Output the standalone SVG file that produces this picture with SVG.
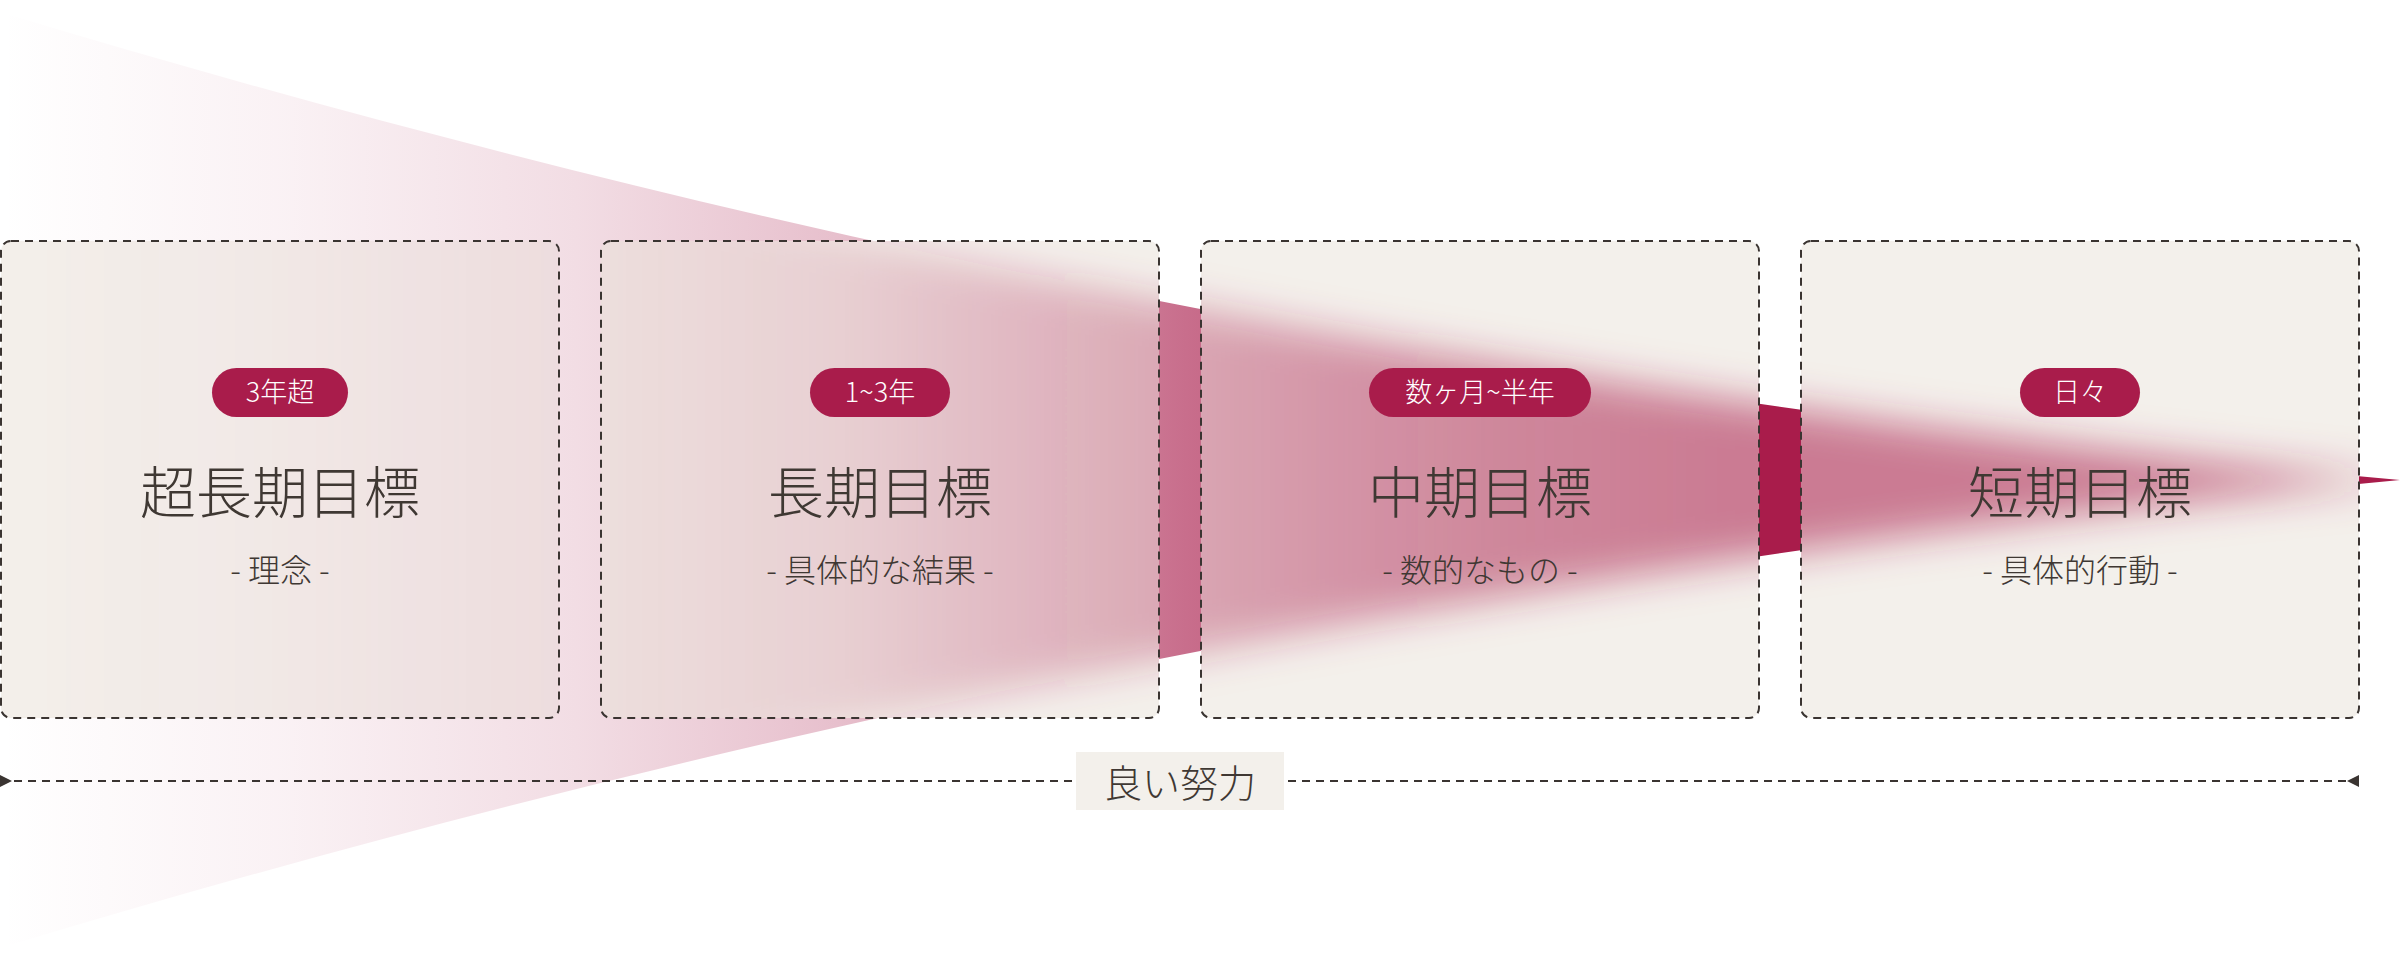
<svg xmlns="http://www.w3.org/2000/svg" xmlns:xlink="http://www.w3.org/1999/xlink" width="2400" height="960" viewBox="0 0 2400 960">
<style>
.bg{fill:#f3f0eb}
.veil{fill:#f3f0eb;fill-opacity:0.45}
.frame{fill:none;stroke:#3a3431;stroke-width:2;stroke-dasharray:8 6}
.pill{fill:#a91c4b}
.pt{font-family:"Noto Sans CJK JP","Noto Sans",sans-serif;font-size:27px;font-weight:300;fill:#ffffff;text-anchor:middle}
.ttl{font-family:"Noto Sans CJK JP","Noto Sans",sans-serif;font-size:56px;font-weight:300;fill:#3f3833;text-anchor:middle}
.sub{font-family:"Noto Sans CJK JP","Noto Sans",sans-serif;font-size:32px;font-weight:300;fill:#3f3833;text-anchor:middle}
.conn{fill:none;stroke:#3a3431;stroke-width:2;stroke-dasharray:8 6}
.lbl{font-family:"Noto Sans CJK JP","Noto Sans",sans-serif;font-size:38px;font-weight:300;fill:#3f3833;text-anchor:middle}
</style>
<defs>
<linearGradient id="wg" gradientUnits="userSpaceOnUse" x1="0" y1="0" x2="2400" y2="0">
<stop offset="0" stop-color="#a91c4b" stop-opacity="0"/>
<stop offset="0.12" stop-color="#a91c4b" stop-opacity="0.06"/>
<stop offset="0.24" stop-color="#a91c4b" stop-opacity="0.15"/>
<stop offset="0.35" stop-color="#a91c4b" stop-opacity="0.28"/>
<stop offset="0.49" stop-color="#a91c4b" stop-opacity="0.63"/>
<stop offset="0.62" stop-color="#a91c4b" stop-opacity="0.9"/>
<stop offset="0.72" stop-color="#a91c4b" stop-opacity="1"/>
<stop offset="1" stop-color="#a91c4b" stop-opacity="1"/>
</linearGradient>
<path id="w" d="M0,12 C800,254 1600,406 2400,480 C1600,554 800,706 0,948 Z" fill="url(#wg)"/>
<filter id="blur" filterUnits="userSpaceOnUse" x="-100" y="-100" width="2600" height="1160">
<feGaussianBlur stdDeviation="20"/>
</filter>
<clipPath id="c1"><rect x="1" y="241" width="558" height="477" rx="10"/></clipPath>
<clipPath id="c2"><rect x="601" y="241" width="558" height="477" rx="10"/></clipPath>
<clipPath id="c3"><rect x="1201" y="241" width="558" height="477" rx="10"/></clipPath>
<clipPath id="c4"><rect x="1801" y="241" width="558" height="477" rx="10"/></clipPath>
<marker id="aL" markerUnits="userSpaceOnUse" markerWidth="12" markerHeight="12" refX="0" refY="6" orient="0">
<path d="M0,0 L12,6 L0,12 Z" fill="#3a3431"/>
</marker>
<marker id="aR" markerUnits="userSpaceOnUse" markerWidth="12" markerHeight="12" refX="12" refY="6" orient="0">
<path d="M12,0 L0,6 L12,12 Z" fill="#3a3431"/>
</marker>
</defs>
<rect x="0" y="0" width="2400" height="960" fill="#ffffff"/>
<g id="wedge"><use href="#w"/></g>

<g id="box1">
<rect class="bg" x="1" y="241" width="558" height="477" rx="10"/>
<g clip-path="url(#c1)"><use href="#w" filter="url(#blur)"/></g>
<rect class="veil" x="1" y="241" width="558" height="477" rx="10"/>
<rect class="frame" x="1" y="241" width="558" height="477" rx="10"/>
<rect class="pill" x="212" y="368" width="136" height="49" rx="24.5"/>
<text class="pt" x="280" y="402">3年超</text>
<text class="ttl" x="280" y="513">超長期目標</text>
<text class="sub" x="280" y="582">- 理念 -</text>
</g>

<g id="box2">
<rect class="bg" x="601" y="241" width="558" height="477" rx="10"/>
<g clip-path="url(#c2)"><use href="#w" filter="url(#blur)"/></g>
<rect class="veil" x="601" y="241" width="558" height="477" rx="10"/>
<rect class="frame" x="601" y="241" width="558" height="477" rx="10"/>
<rect class="pill" x="810" y="368" width="140" height="49" rx="24.5"/>
<text class="pt" x="880" y="402">1~3年</text>
<text class="ttl" x="880" y="513">長期目標</text>
<text class="sub" x="880" y="582">- 具体的な結果 -</text>
</g>

<g id="box3">
<rect class="bg" x="1201" y="241" width="558" height="477" rx="10"/>
<g clip-path="url(#c3)"><use href="#w" filter="url(#blur)"/></g>
<rect class="veil" x="1201" y="241" width="558" height="477" rx="10"/>
<rect class="frame" x="1201" y="241" width="558" height="477" rx="10"/>
<rect class="pill" x="1369" y="368" width="222" height="49" rx="24.5"/>
<text class="pt" x="1480" y="402">数ヶ月~半年</text>
<text class="ttl" x="1480" y="513">中期目標</text>
<text class="sub" x="1480" y="582">- 数的なもの -</text>
</g>

<g id="box4">
<rect class="bg" x="1801" y="241" width="558" height="477" rx="10"/>
<g clip-path="url(#c4)"><use href="#w" filter="url(#blur)"/></g>
<rect class="veil" x="1801" y="241" width="558" height="477" rx="10"/>
<rect class="frame" x="1801" y="241" width="558" height="477" rx="10"/>
<rect class="pill" x="2020" y="368" width="120" height="49" rx="24.5"/>
<text class="pt" x="2080" y="402">日々</text>
<text class="ttl" x="2080" y="513">短期目標</text>
<text class="sub" x="2080" y="582">- 具体的行動 -</text>
</g>

<g id="connectors">
<line class="conn" x1="0" y1="781" x2="2359" y2="781" marker-start="url(#aL)" marker-end="url(#aR)"/>
</g>

<g id="label">
<rect class="bg" x="1076" y="752" width="208" height="58"/>
<text class="lbl" x="1180" y="797">良い努力</text>
</g>
</svg>
